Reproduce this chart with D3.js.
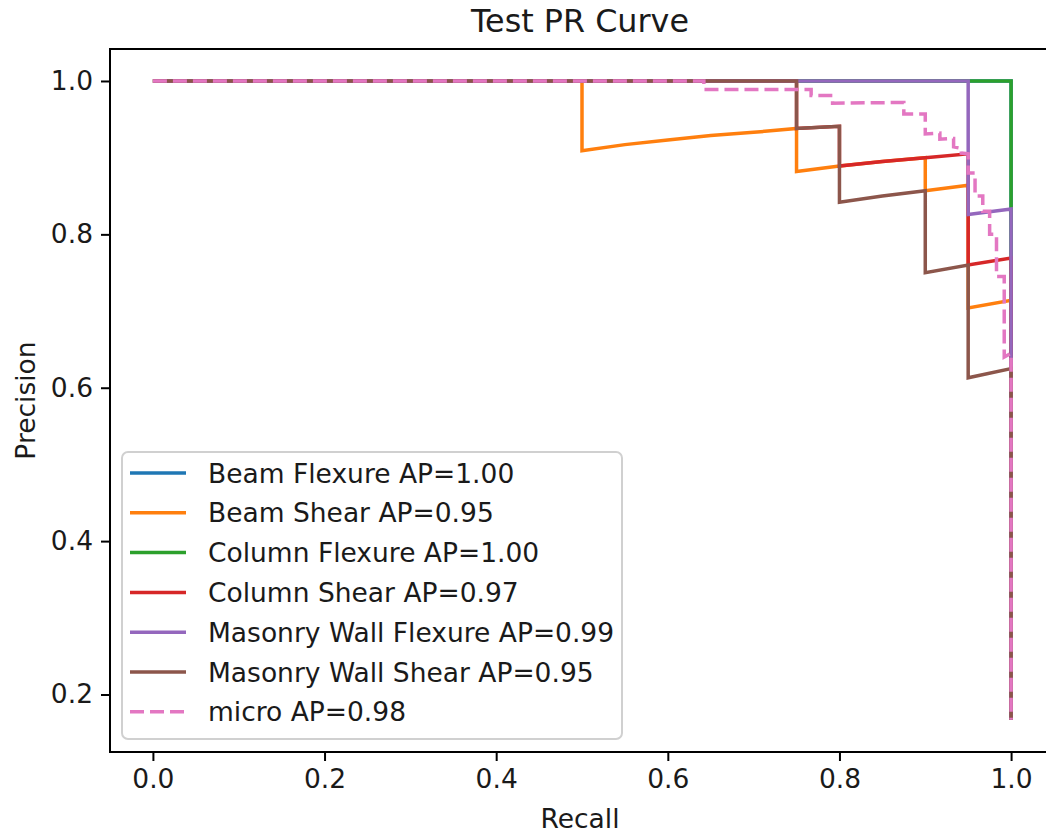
<!DOCTYPE html>
<html>
<head>
<meta charset="utf-8">
<script src="https://cdn.jsdelivr.net/npm/d3@7"></script>
<style>
  body { margin: 0; background: #fff; }
  svg text { font-family: "DejaVu Sans", sans-serif; fill: #1a1a1a; }
</style>
</head>
<body>
<div id="svg-container"></div>
<script>
// ---------------- data ----------------
const seriesNames = [
  "Beam Flexure AP=1.00",
  "Beam Shear AP=0.95",
  "Column Flexure AP=1.00",
  "Column Shear AP=0.97",
  "Masonry Wall Flexure AP=0.99",
  "Masonry Wall Shear AP=0.95",
  "micro AP=0.98"
];

const beamFlexureRecall = [0, 1, 1];
const beamFlexurePrecision = [1, 1, 0.167];

const beamShearRecall = [0, 0.5, 0.5, 0.55, 0.6, 0.65, 0.7, 0.75, 0.75, 0.8, 0.85, 0.9, 0.9, 0.95, 0.95, 1, 1];
const beamShearPrecision = [1, 1, 0.909, 0.917, 0.923, 0.929, 0.933, 0.938, 0.882, 0.889, 0.895, 0.9, 0.857, 0.864, 0.704, 0.714, 0.167];

const columnFlexureRecall = [0, 1, 1];
const columnFlexurePrecision = [1, 1, 0.167];

const columnShearRecall = [0, 0.75, 0.75, 0.8, 0.8, 0.85, 0.9, 0.95, 0.95, 1, 1];
const columnShearPrecision = [1, 1, 0.938, 0.941, 0.889, 0.895, 0.9, 0.905, 0.76, 0.769, 0.167];

const wallFlexureRecall = [0, 0.95, 0.95, 1, 1];
const wallFlexurePrecision = [1, 1, 0.826, 0.833, 0.167];

const wallShearRecall = [0, 0.75, 0.75, 0.8, 0.8, 0.85, 0.9, 0.9, 0.95, 0.95, 1, 1];
const wallShearPrecision = [1, 1, 0.938, 0.941, 0.842, 0.85, 0.857, 0.75, 0.76, 0.613, 0.625, 0.167];

const microRecall = [0, 0.642, 0.642, 0.767, 0.767, 0.792, 0.792, 0.875, 0.875, 0.9, 0.9, 0.917, 0.917,
  0.933, 0.933, 0.942, 0.942, 0.95, 0.95, 0.958, 0.958, 0.967, 0.967, 0.975, 0.975, 0.983, 0.983,
  0.992, 0.992, 1, 1];
const microPrecision = [1, 1, 0.989, 0.989, 0.981, 0.981, 0.971, 0.972, 0.957, 0.957, 0.931, 0.932, 0.924,
  0.925, 0.914, 0.912, 0.906, 0.905, 0.88, 0.88, 0.85, 0.85, 0.83, 0.83, 0.8, 0.8, 0.745,
  0.745, 0.64, 0.645, 0.167];

const xTicks = [0.0, 0.2, 0.4, 0.6, 0.8, 1.0];
const yTicks = [0.2, 0.4, 0.6, 0.8, 1.0];
const colors = ["#1f77b4", "#ff7f0e", "#2ca02c", "#d62728", "#9467bd", "#8c564b", "#e377c2"];

const curves = [
  [beamFlexureRecall, beamFlexurePrecision],
  [beamShearRecall, beamShearPrecision],
  [columnFlexureRecall, columnFlexurePrecision],
  [columnShearRecall, columnShearPrecision],
  [wallFlexureRecall, wallFlexurePrecision],
  [wallShearRecall, wallShearPrecision],
  [microRecall, microPrecision]
].map(([r, p], i) => ({
  name: seriesNames[i],
  color: colors[i],
  dashed: i === 6,
  points: r.map((d, j) => ({ recall: d, precision: p[j] }))
}));

// ---------------- init ----------------
const width = 1046, height = 834;
const plot = { left: 110, right: 1054, top: 49, bottom: 752 };
const fontSize = 26.5;

const svg = d3.select("#svg-container").append("svg")
  .attr("width", width).attr("height", height);

const xScale = d3.scaleLinear().domain([-0.05, 1.05]).range([plot.left, plot.right]);
const yScale = d3.scaleLinear().domain([0.125, 1.0417]).range([plot.bottom, plot.top]);

// axes
const xAxis = d3.axisBottom(xScale).tickValues(xTicks).tickFormat(d3.format(".1f"))
  .tickSizeInner(9).tickSizeOuter(0).tickPadding(8);
const yAxis = d3.axisLeft(yScale).tickValues(yTicks).tickFormat(d3.format(".1f"))
  .tickSizeInner(9).tickSizeOuter(0).tickPadding(8);

const gx = svg.append("g").attr("transform", `translate(0,${plot.bottom})`).call(xAxis);
const gy = svg.append("g").attr("transform", `translate(${plot.left},0)`).call(yAxis);
[gx, gy].forEach(g => {
  g.select(".domain").remove();
  g.selectAll(".tick line").attr("stroke", "#000").attr("stroke-width", 2);
  g.selectAll(".tick text").attr("font-size", fontSize).attr("font-family", "DejaVu Sans").attr("fill", "#1a1a1a");
});

// lines
const line = d3.line().x(d => xScale(d.recall)).y(d => yScale(d.precision));

svg.append("g").selectAll("path")
  .data(curves)
  .join("path")
  .attr("d", d => line(d.points))
  .attr("fill", "none")
  .attr("stroke", d => d.color)
  .attr("stroke-width", 3.5)
  .attr("stroke-dasharray", d => d.dashed ? "14,6" : null);

// spines
svg.append("rect")
  .attr("x", plot.left).attr("y", plot.top)
  .attr("width", plot.right - plot.left).attr("height", plot.bottom - plot.top)
  .attr("fill", "none").attr("stroke", "#000").attr("stroke-width", 2);

// title + labels
svg.append("text").attr("x", 580).attr("y", 32).attr("text-anchor", "middle")
  .attr("font-size", 31.8).text("Test PR Curve");
svg.append("text").attr("x", 580).attr("y", 828).attr("text-anchor", "middle")
  .attr("font-size", fontSize).text("Recall");
svg.append("text").attr("transform", `translate(35,${(plot.top + plot.bottom) / 2}) rotate(-90)`)
  .attr("text-anchor", "middle").attr("font-size", fontSize).text("Precision");

// legend
const legend = svg.append("g").attr("transform", "translate(122,452)");
legend.append("rect")
  .attr("width", 500).attr("height", 287).attr("rx", 6)
  .attr("fill", "#fff").attr("fill-opacity", 0.8)
  .attr("stroke", "#d0d0d0").attr("stroke-width", 2);

const rows = legend.selectAll("g.row").data(curves).join("g")
  .attr("class", "row")
  .attr("transform", (d, i) => `translate(0,${21 + i * 39.8})`);
rows.append("line")
  .attr("x1", 8).attr("x2", 64)
  .attr("stroke", d => d.color).attr("stroke-width", 3.5)
  .attr("stroke-dasharray", d => d.dashed ? "14,6" : null);
rows.append("text")
  .attr("x", 86).attr("y", 9.5)
  .attr("font-size", fontSize).text(d => d.name);
</script>
</body>
</html>
